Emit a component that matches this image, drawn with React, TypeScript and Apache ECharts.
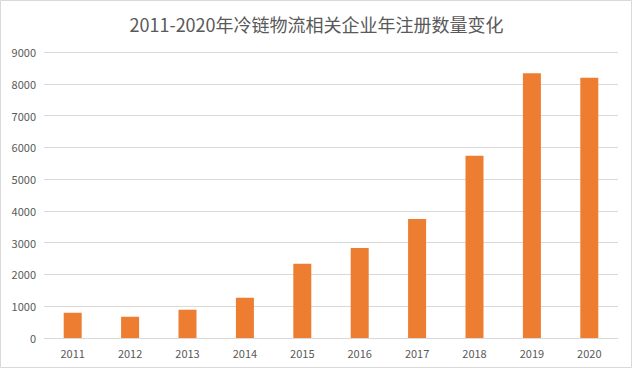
import React, { useEffect, useRef } from "react";
import * as echarts from "echarts";

const categories = ["2011", "2012", "2013", "2014", "2015", "2016", "2017", "2018", "2019", "2020"];
const counts = [796, 670, 890, 1267, 2340, 2830, 3742, 5733, 8333, 8186];
const titleText = "2011-2020年冷链物流相关企业年注册数量变化";

export default function App() {
  const ref = useRef<HTMLDivElement>(null);
  useEffect(() => {
    const chart = echarts.init(ref.current!, null, { renderer: "svg" });
    chart.setOption({
      animation: false,
      backgroundColor: "#ffffff",
      title: {
        text: titleText,
        left: "center",
        top: 10,
        textStyle: {
          fontFamily: "Noto Sans CJK SC",
          fontSize: 18,
          fontWeight: "normal",
          color: "#595959",
        },
      },
      graphic: [
        {
          type: "rect",
          shape: { x: 0.5, y: 0.5, width: 631, height: 367 },
          style: { fill: "none", stroke: "#d9d9d9", lineWidth: 1 },
          silent: true,
        },
      ],
      grid: { left: 44, right: 15, top: 52, bottom: 31, containLabel: false },
      xAxis: {
        type: "category",
        data: categories,
        axisTick: { show: false },
        axisLine: { show: true, lineStyle: { color: "#d9d9d9" } },
        axisLabel: {
          color: "#595959",
          fontSize: 11,
          fontFamily: "Noto Sans CJK SC",
          margin: 9,
        },
      },
      yAxis: {
        type: "value",
        min: 0,
        max: 9000,
        interval: 1000,
        axisLine: { show: false },
        axisTick: { show: false },
        splitLine: { lineStyle: { color: "#d9d9d9" } },
        axisLabel: {
          color: "#595959",
          fontSize: 11,
          fontFamily: "Noto Sans CJK SC",
          margin: 8,
          formatter: (v: number) => String(v),
        },
      },
      series: [
        {
          type: "bar",
          data: counts,
          barWidth: 18,
          itemStyle: { color: "#ED7D31" },
        },
      ],
    });
    return () => chart.dispose();
  }, []);
  return (
    <div
      ref={ref}
      style={{ position: "fixed", left: 0, top: 0, width: 633, height: 369 }}
    />
  );
}
